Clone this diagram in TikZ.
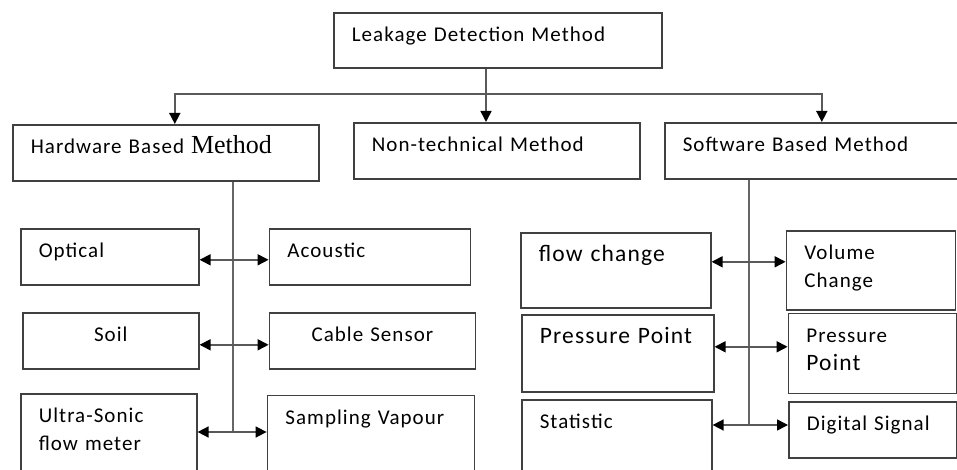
\documentclass[tikz,border=0pt]{standalone}
\usepackage{fontspec}
\setmainfont[LetterSpace=5]{Carlito}
\newfontfamily\methodfont{Liberation Serif}
\usetikzlibrary{positioning,arrows.meta}

\begin{document}
\begin{tikzpicture}[
  x=1pt, y=-1pt,
  font=\fontsize{21}{28}\selectfont,
  box/.style={draw=black!75, line width=1.6pt, inner xsep=18pt, inner ysep=0pt, align=left, text height=29pt, text depth=27pt},
  mid/.style={box, align=center},
  big/.style={font=\fontsize{23.5}{28}\selectfont},
  tip/.style={Triangle[length=11pt,width=11pt,color=black]},
  arr/.style={-{Triangle[length=11pt,width=11pt,color=black]}, line width=1.6pt, draw=black!65},
  dbl/.style={{Triangle[length=11pt,width=11pt,color=black]}-{Triangle[length=11pt,width=11pt,color=black]}, line width=1.6pt, draw=black!65},
  bus/.style={line width=1.8pt, draw=black!60}
]
\clip (0,0) rectangle (957,470);

% Top and methods
\node[box, anchor=north west, text width=292pt, text depth=26pt] (leak) at (333,12) {Leakage Detection Method};
\node[box, anchor=north west, text width=270pt] (hw) at (12,124) {Hardware Based {\methodfont\fontsize{26}{28}\selectfont Method}};
\node[box, anchor=north west, text width=250pt] (nt) at (353,122) {Non-technical Method};
\node[box, anchor=north west, text width=278pt] (sw) at (664,122) {Software Based Method};

% Hardware leaves
\node[box, anchor=north west, text width=142pt] (opt) at (20,228) {Optical};
\node[box, right=69pt of opt, text width=165pt] (aco) {Acoustic};
\node[mid, anchor=north west, text width=140pt] (soil) at (22,312) {Soil};
\node[mid, right=69pt of soil, text width=170pt] (cab) {Cable Sensor};
\node[box, anchor=north west, text width=140pt, text depth=68pt] (ult) at (20,393) {Ultra-Sonic\\flow meter};
\node[box, right=69pt of ult, text width=171pt, text depth=65pt] (samp) {Sampling Vapour};

% Software leaves
\node[box, big, anchor=north west, text width=154pt, text depth=46pt] (flow) at (520,232) {flow change};
\node[box, right=74pt of flow, text width=133pt, text depth=50pt] (vol) {Volume\\Change};
\node[box, big, anchor=north west, text width=156pt, text depth=48pt] (pp1) at (521,314) {Pressure Point};
\node[box, right=73pt of pp1, text width=132pt, text depth=51pt] (pp2) {Pressure\\{\fontsize{23.5}{28}\selectfont Point}};
\node[box, anchor=north west, text width=154pt, text depth=62pt] (stat) at (521,399) {Statistic};
\node[box, anchor=north west, text width=132pt] (dig) at (788,401) {Digital Signal};

% Arrows from top
\coordinate (split) at (486,94);
\draw[arr] (split |- leak.south) -- (split |- nt.north);
\draw[arr] (split) -| ([xshift=9pt]hw.north);
\draw[arr] (split) -| (sw.north);

% Hardware bus
\coordinate (hwbus) at (233,432);
\draw[bus] (hwbus |- hw.south) -- (hwbus);
\draw[dbl] ([yshift=-3pt]opt.east) -- ([yshift=-3pt]aco.west);
\draw[dbl] ([yshift=-4pt]soil.east) -- ([yshift=-4pt]soil.east -| cab.west);
\draw[dbl] (ult.east |- hwbus) -- (samp.west |- hwbus);

% Software bus
\coordinate (swbus) at (749,425);
\draw[bus] (swbus |- sw.south) -- (swbus);
\draw[dbl] ([yshift=8.5pt]flow.east) -- ([yshift=8.5pt]flow.east -| vol.west);
\draw[dbl] ([yshift=6.5pt]pp1.east) -- ([yshift=6.5pt]pp1.east -| pp2.west);
\draw[dbl] (stat.east |- swbus) -- (dig.west |- swbus);

\end{tikzpicture}
\end{document}
